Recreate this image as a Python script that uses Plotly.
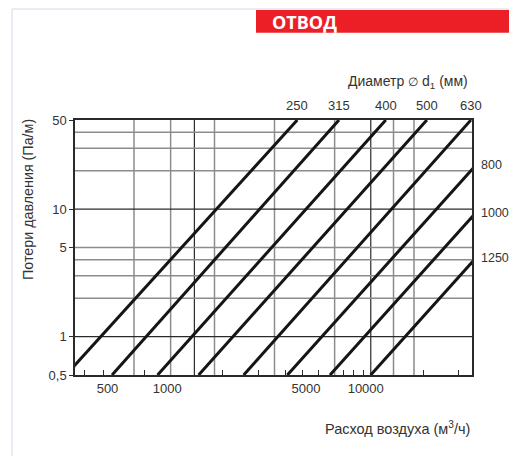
import math
import plotly.graph_objects as go

# ---- data ----
diameters = [250, 315, 400, 500, 630, 800, 1000, 1250]
flow_at_p_low = [309, 527, 894, 1439, 2427, 4029, 6607, 10590]      # m3/h at 0.5 Pa/m
flow_at_p_high = [4520, 7330, 12620, 20320, 33880, 57400, 94200, 151400]  # m3/h at 50 Pa/m
p_low, p_high = 0.5, 50

x_tick_vals = [500, 1000, 5000, 10000]
x_tick_text = ["500", "1000", "5000", "10000"]
x_minor_ticks = [381, 475, 765, 1896, 2884, 3946, 4810, 5794, 7746, 8696, 9770, 19630, 29170]
x_grid_gray = [680, 1040, 1730, 3470, 6970, 13800, 17500]
x_grid_dark = [1370, 10600]

y_tick_vals = [0.5, 1, 5, 10, 50]
y_tick_text = ["0,5", "1", "5", "10", "50"]
y_grid_gray = [2, 3, 4, 5, 20, 30, 40]
y_grid_dark = [1, 10]

x_range = [343, 34300]
y_range = [0.5, 50]

FONT = "Arial, Liberation Sans, Helvetica, sans-serif"
TXT = "#333333"

FIG_W, FIG_H = 509, 456
L, T, W, H = 75, 120, 397, 255


def px(xp):
    return (xp - L) / W


def py(yp):
    return (T + H - yp) / H


fig = go.Figure()

for d, q0, q1 in zip(diameters, flow_at_p_low, flow_at_p_high):
    fig.add_trace(go.Scatter(
        x=[q0, q1], y=[p_low, p_high], mode="lines",
        line=dict(color="#151515", width=3), name=str(d),
        hoverinfo="skip", showlegend=False))

shapes = []
for v in x_grid_gray:
    shapes.append(dict(type="line", xref="x", yref="paper", x0=v, x1=v, y0=0, y1=1,
                       line=dict(color="#8c8c8c", width=1.5), layer="below"))
for v in x_grid_dark:
    shapes.append(dict(type="line", xref="x", yref="paper", x0=v, x1=v, y0=0, y1=1,
                       line=dict(color="#2a2a2a", width=1.2), layer="below"))
for v in y_grid_gray:
    shapes.append(dict(type="line", xref="paper", yref="y", x0=0, x1=1, y0=v, y1=v,
                       line=dict(color="#8c8c8c", width=1.5), layer="below"))
for v in y_grid_dark:
    shapes.append(dict(type="line", xref="paper", yref="y", x0=0, x1=1, y0=v, y1=v,
                       line=dict(color="#2a2a2a", width=1.2), layer="below"))

shapes.append(dict(type="line", xref="paper", yref="paper", x0=px(12), x1=px(509),
                   y0=py(9), y1=py(9), line=dict(color="#dfe7ef", width=1.5)))
shapes.append(dict(type="line", xref="paper", yref="paper", x0=px(12), x1=px(12),
                   y0=py(9), y1=py(456), line=dict(color="#dfe7ef", width=1.5)))
shapes.append(dict(type="rect", xref="paper", yref="paper", x0=px(256), x1=px(509),
                   y0=py(32.7), y1=py(10), fillcolor="#ec1f27", line=dict(width=0)))

annotations = []
annotations.append(dict(xref="paper", yref="paper", x=px(270), y=py(21.5), xanchor="left",
                        yanchor="middle", showarrow=False, text="<b>ОТВОД</b>",
                        font=dict(family="Open Sans, Noto Sans, sans-serif", size=18, color="white")))
annotations.append(dict(xref="paper", yref="paper", x=px(28), y=py(200), textangle=-90,
                        xanchor="center", yanchor="middle", showarrow=False,
                        text="Потери давления (Па/м)", font=dict(family=FONT, size=14.3, color=TXT)))
annotations.append(dict(xref="paper", yref="paper", x=px(472), y=py(428), xanchor="right",
                        yanchor="middle", showarrow=False,
                        text="Расход воздуха (м<sup>3</sup>/ч)", font=dict(family=FONT, size=14.5, color=TXT)))
annotations.append(dict(xref="paper", yref="paper", x=px(470), y=py(81.5), xanchor="right",
                        yanchor="middle", showarrow=False,
                        text="Диаметр <span style='font-size:12px'>∅</span> d<sub>1</sub> (мм)",
                        font=dict(family=FONT, size=14, color=TXT)))

lx0, lx1 = math.log10(x_range[0]), math.log10(x_range[1])
for d, q0, q1 in zip(diameters, flow_at_p_low, flow_at_p_high):
    if q1 <= x_range[1]:
        annotations.append(dict(xref="x", yref="paper", x=math.log10(q1), y=py(105),
                                xanchor="center", yanchor="middle", showarrow=False,
                                text=str(d), font=dict(family=FONT, size=13, color=TXT)))
    else:
        lp = math.log10(p_low) + (math.log10(p_high) - math.log10(p_low)) * \
            (lx1 - math.log10(q0)) / (math.log10(q1) - math.log10(q0))
        annotations.append(dict(xref="paper", yref="y", x=px(479), y=lp, yshift=4,
                                xanchor="left", yanchor="middle", showarrow=False,
                                text=str(d), font=dict(family=FONT, size=12.5, color=TXT)))

fig.update_layout(
    width=FIG_W, height=FIG_H,
    margin=dict(l=L, r=FIG_W - L - W, t=T, b=FIG_H - T - H),
    paper_bgcolor="white", plot_bgcolor="white",
    shapes=shapes, annotations=annotations,
    xaxis=dict(type="log", range=[lx0, lx1], tickvals=x_tick_vals, ticktext=x_tick_text,
               ticks="", showgrid=False, zeroline=False, showline=True, mirror=True,
               linecolor="#2a2a2a", linewidth=1.5, ticklabelstandoff=1,
               tickfont=dict(family=FONT, size=13, color=TXT),
               minor=dict(tickvals=x_minor_ticks, ticks="inside", ticklen=5,
                          tickcolor="#2a2a2a", tickwidth=1, showgrid=False)),
    yaxis=dict(type="log", range=[math.log10(y_range[0]), math.log10(y_range[1])],
               tickvals=y_tick_vals, ticktext=y_tick_text, ticks="outside", ticklen=4,
               tickcolor="#2a2a2a", showgrid=False, zeroline=False, showline=True,
               mirror=True, linecolor="#2a2a2a", linewidth=1.5,
               tickfont=dict(family=FONT, size=13, color=TXT)),
)

fig.write_html("out.html", config={"displayModeBar": False},
               post_script="document.body.style.margin='0';document.body.style.overflow='hidden';")
